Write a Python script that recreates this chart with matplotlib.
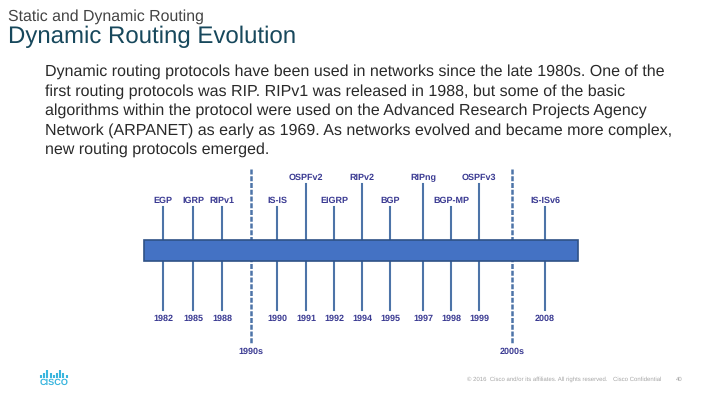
import matplotlib
matplotlib.use("Agg")
import matplotlib.pyplot as plt
from matplotlib.patches import Rectangle

top_names = ["EGP", "IGRP", "RIPv1", "IS-IS", "OSPFv2", "EIGRP", "RIPv2", "BGP", "RIPng", "BGP-MP", "OSPFv3", "IS-ISv6"]
years = ["1982", "1985", "1988", "1990", "1991", "1992", "1994", "1995", "1997", "1998", "1999", "2008"]
decades = ["1990s", "2000s"]
tall_names = ["OSPFv2", "RIPv2", "RIPng", "OSPFv3"]

body_lines = [
    "Dynamic routing protocols have been used in networks since the late 1980s. One of the",
    "first routing protocols was RIP. RIPv1 was released in 1988, but some of the basic",
    "algorithms within the protocol were used on the Advanced Research Projects Agency",
    "Network (ARPANET) as early as 1969. As networks evolved and became more complex,",
    "new routing protocols emerged.",
]

# layout, in pixels of the slide
name_x = [163, 193, 222, 277, 306, 334, 362, 390, 423, 451, 479, 545]
decade_x = [251, 512]
logo_x = [41, 44.2, 47.4, 50.6, 53.8, 57, 60.2, 63.4, 66.6]
logo_h = [3, 5, 8, 5, 3, 5, 8, 5, 3]

LINE = "#4d74a8"
TEXT = "#3a3a92"
GREY = "#a6a6a6"
CYAN = "#3bb6de"

plt.rcParams["font.family"] = ["Liberation Sans", "DejaVu Sans"]
plt.rcParams["text.hinting"] = "no_hinting"

fig = plt.figure(figsize=(7.2, 4.05), dpi=100)
ax = fig.add_axes([0, 0, 1, 1])
ax.set_xlim(0, 720)
ax.set_ylim(405, 0)
ax.axis("off")

ax.text(8, 17, "Static and Dynamic Routing", fontsize=11.4, color="#444444", va="center")
ax.text(8, 36.5, "Dynamic Routing Evolution", fontsize=17.3, color="#17485c", va="center")
for i, line in enumerate(body_lines):
    ax.text(45, 72 + i * 19.4, line, fontsize=11.5, color="#2a2a2a", va="center")

for x, name, year in zip(name_x, top_names, years):
    top = 184 if name in tall_names else 207
    ax.plot([x, x], [top, 240], color=LINE, lw=1.5, zorder=1)
    ax.plot([x, x], [260, 310], color=LINE, lw=1.5, zorder=1)
    ax.text(x, top - 6, name, fontsize=6.5, fontweight="bold", color=TEXT, ha="center", va="center")
    ax.text(x, 319, year, fontsize=6.5, fontweight="bold", color=TEXT, ha="center", va="center")

for x, label in zip(decade_x, decades):
    ax.plot([x, x], [169, 343], color=LINE, lw=1.8, ls=(0, (2, 0.7)), zorder=1)
    ax.text(x, 352, label, fontsize=6.5, fontweight="bold", color=TEXT, ha="center", va="center")

ax.add_patch(Rectangle((144, 240), 434, 21, facecolor="#4472c4", edgecolor="#2f5286", lw=1.2, zorder=2))

# logo
for x, h in zip(logo_x, logo_h):
    ax.plot([x, x], [378 - h, 378], color=CYAN, lw=1.5, solid_capstyle="butt")
ax.text(53.8, 382.8, "CISCO", fontsize=6.6, fontweight="bold", color=CYAN, ha="center", va="center")

ax.text(467, 379, "© 2016  Cisco and/or its affiliates. All rights reserved.", fontsize=4.3, color=GREY, va="center")
ax.text(613, 379, "Cisco Confidential", fontsize=4.3, color=GREY, va="center")
ax.text(676, 379, "40", fontsize=4.3, color=GREY, va="center")

fig.savefig("out.png", dpi=100)
